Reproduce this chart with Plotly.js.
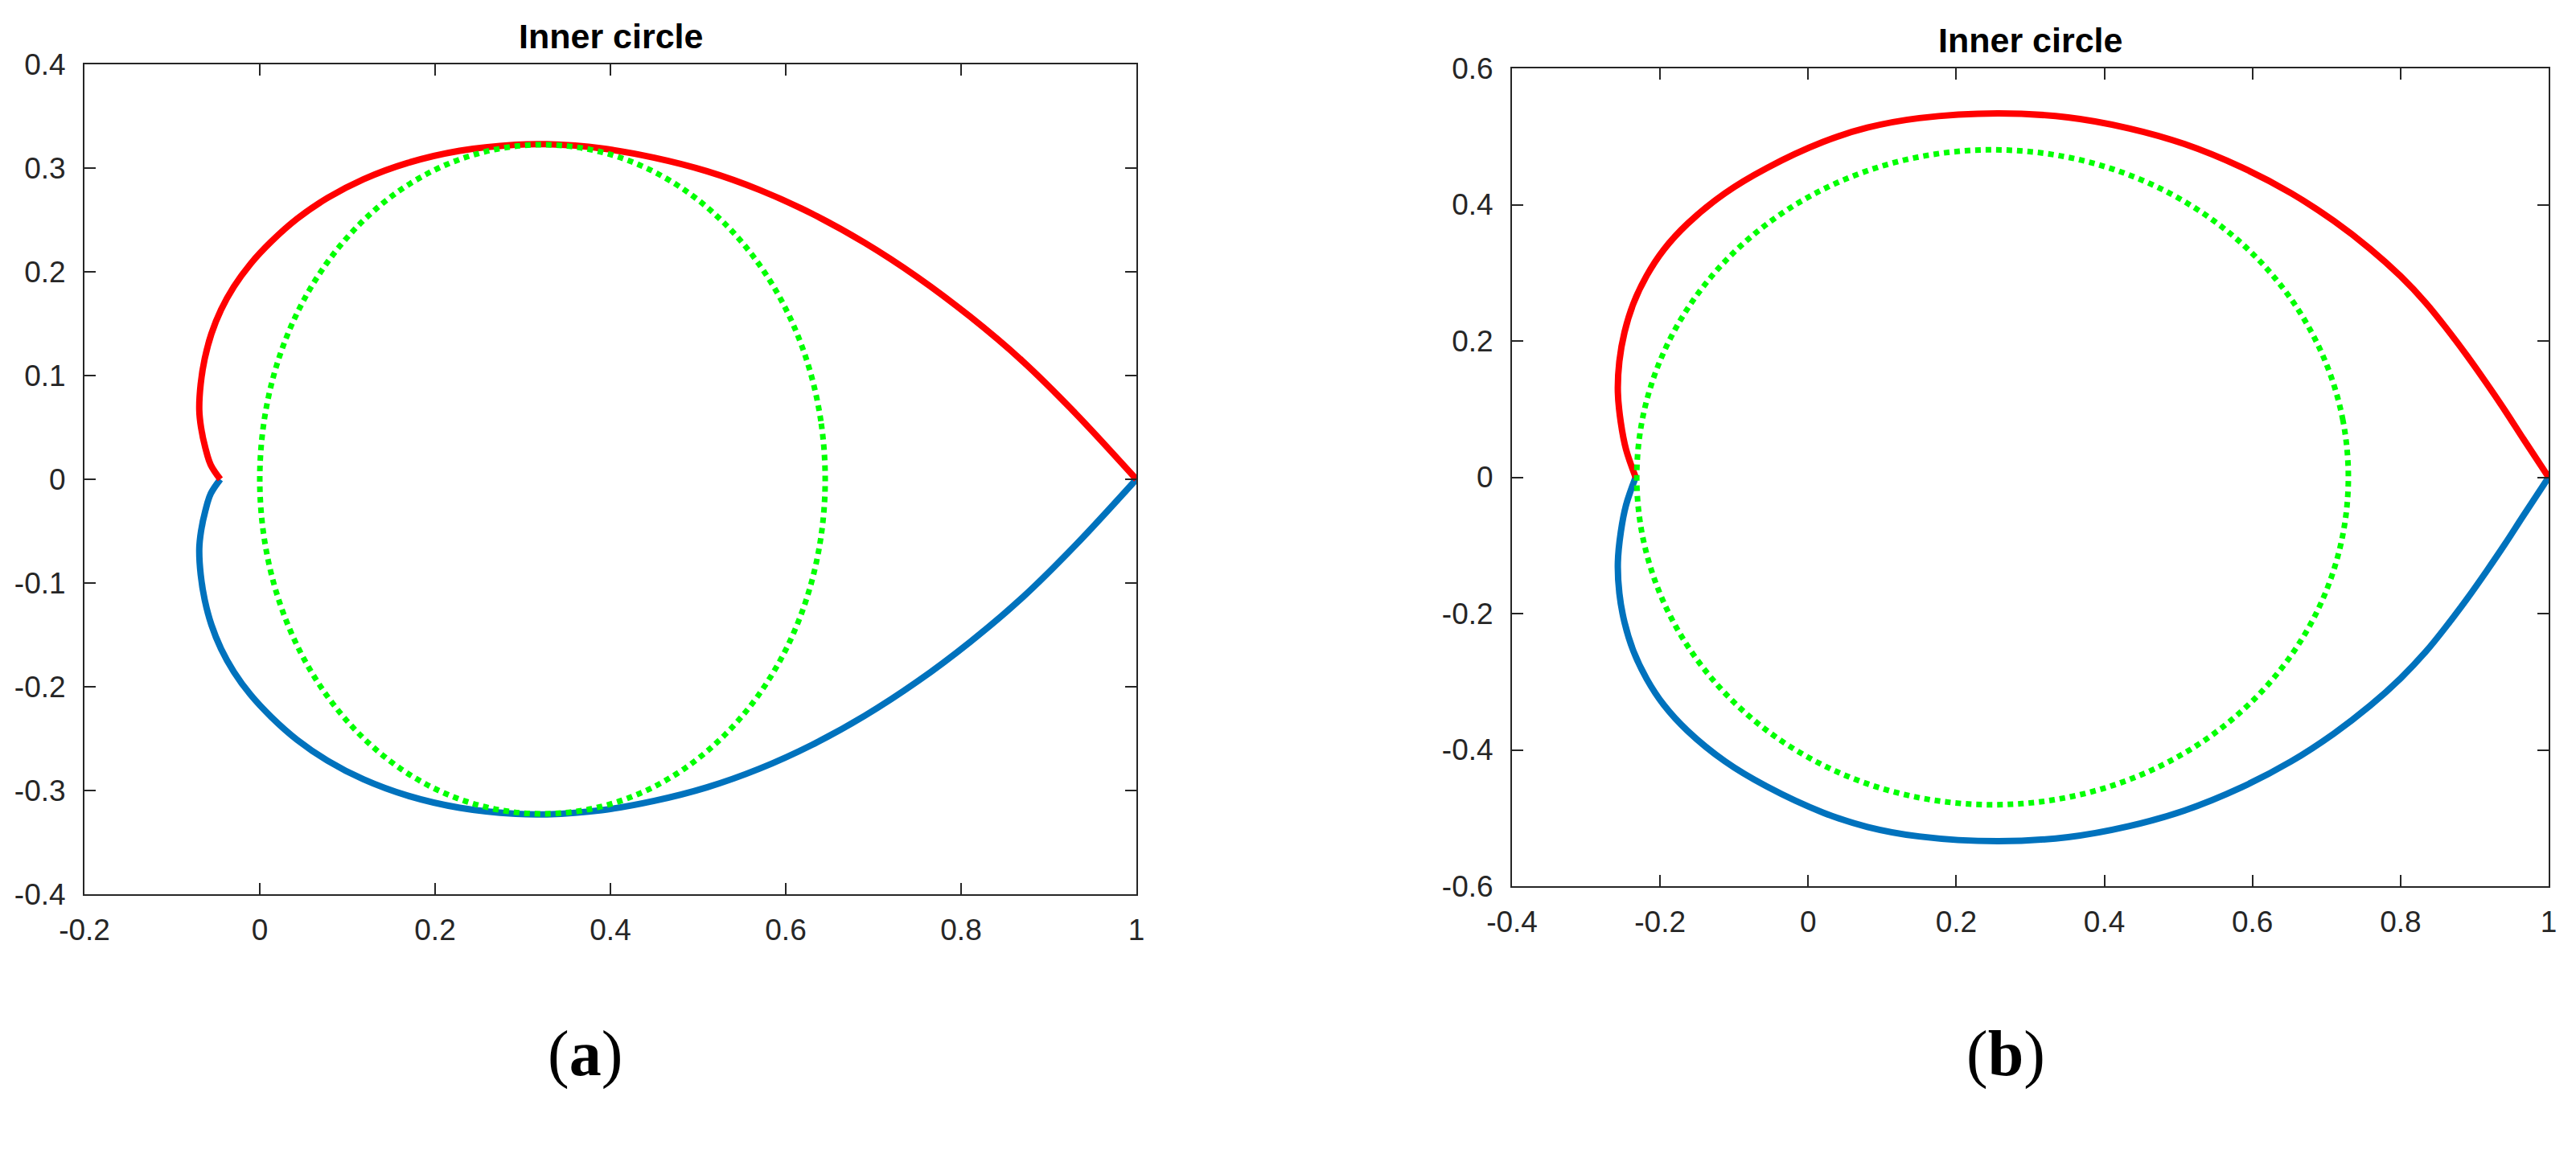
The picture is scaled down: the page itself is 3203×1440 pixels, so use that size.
<!DOCTYPE html>
<html><head><meta charset="utf-8">
<script src="https://cdn.plot.ly/plotly-3.0.1.min.js"></script>
<style>html,body{margin:0;padding:0;background:#fff;}</style>
</head><body><div id="chart" style="width:3203px;height:1440px;"></div>
<script>
// ---------- text ----------
const titleText = "Inner circle";
const panelLabels = ["(<b>a</b>)", "(<b>b</b>)"];

// ---------- panel (a) data ----------
const aRedX  = [-0.045,-0.056,-0.062,-0.067,-0.069,-0.0674,-0.0628,-0.0552,-0.0442,-0.0295,-0.0106,0.0131,0.0427,0.0772,0.1184,0.1687,0.2280,0.2919,0.3277,0.390,0.450,0.510,0.570,0.630,0.690,0.750,0.810,0.870,0.930,1.000];
const aRedY  = [0.000,0.014,0.030,0.050,0.067,0.0918,0.1163,0.1402,0.1633,0.1857,0.2076,0.2291,0.2512,0.2712,0.2893,0.3050,0.3167,0.3225,0.3230,0.319,0.310,0.297,0.279,0.256,0.228,0.195,0.157,0.114,0.064,0.000];
const aBlueX = [-0.045,-0.056,-0.062,-0.067,-0.069,-0.0674,-0.0628,-0.0552,-0.0442,-0.0295,-0.0106,0.0131,0.0427,0.0772,0.1184,0.1687,0.2280,0.2919,0.3277,0.390,0.450,0.510,0.570,0.630,0.690,0.750,0.810,0.870,0.930,1.000];
const aBlueY = [0.000,-0.014,-0.030,-0.050,-0.067,-0.0918,-0.1163,-0.1402,-0.1633,-0.1857,-0.2076,-0.2291,-0.2512,-0.2712,-0.2893,-0.3050,-0.3167,-0.3225,-0.3230,-0.319,-0.310,-0.297,-0.279,-0.256,-0.228,-0.195,-0.157,-0.114,-0.064,0.000];
const aGreenX = [0.645,0.6401,0.6256,0.6018,0.5695,0.5298,0.4838,0.4328,0.3785,0.3225,0.2665,0.2122,0.1612,0.1152,0.0755,0.0432,0.0194,0.0049,0.000,0.0049,0.0194,0.0432,0.0755,0.1152,0.1612,0.2122,0.2665,0.3225,0.3785,0.4328,0.4838,0.5298,0.5695,0.6018,0.6256,0.6401,0.645];
const aGreenY = [0.000,0.0560,0.1103,0.1613,0.2073,0.2470,0.2793,0.3031,0.3176,0.3225,0.3176,0.3031,0.2793,0.2470,0.2073,0.1613,0.1103,0.0560,0.000,-0.0560,-0.1103,-0.1613,-0.2073,-0.2470,-0.2793,-0.3031,-0.3176,-0.3225,-0.3176,-0.3031,-0.2793,-0.2470,-0.2073,-0.1613,-0.1103,-0.0560,0.000];

// ---------- panel (b) data ----------
const bRedX  = [-0.233,-0.246,-0.253,-0.257,-0.255,-0.248,-0.236,-0.218,-0.195,-0.163,-0.1123,-0.0563,0.020,0.080,0.150,0.256,0.351,0.433,0.508,0.585,0.652,0.710,0.759,0.800,0.834,0.863,0.890,0.916,0.941,0.966,1.000];
const bRedY  = [0.000,0.041,0.080,0.125,0.170,0.213,0.255,0.296,0.334,0.372,0.4169,0.4535,0.492,0.513,0.527,0.534,0.528,0.512,0.489,0.455,0.417,0.376,0.335,0.295,0.256,0.217,0.178,0.138,0.098,0.056,0.000];
const bBlueX = [-0.233,-0.246,-0.253,-0.257,-0.255,-0.248,-0.236,-0.218,-0.195,-0.163,-0.1123,-0.0563,0.020,0.080,0.150,0.256,0.351,0.433,0.508,0.585,0.652,0.710,0.759,0.800,0.834,0.863,0.890,0.916,0.941,0.966,1.000];
const bBlueY = [0.000,-0.041,-0.080,-0.125,-0.170,-0.213,-0.255,-0.296,-0.334,-0.372,-0.4169,-0.4535,-0.492,-0.513,-0.527,-0.534,-0.528,-0.512,-0.489,-0.455,-0.417,-0.376,-0.335,-0.295,-0.256,-0.217,-0.178,-0.138,-0.098,-0.056,0.000];
const bGreenX = [0.7295,0.7222,0.7005,0.6651,0.6171,0.5579,0.4893,0.4133,0.3324,0.2490,0.1656,0.0847,0.0087,-0.0599,-0.1191,-0.1671,-0.2025,-0.2242,-0.2315,-0.2242,-0.2025,-0.1671,-0.1191,-0.0599,0.0087,0.0847,0.1656,0.2490,0.3324,0.4133,0.4893,0.5579,0.6171,0.6651,0.7005,0.7222,0.7295];
const bGreenY = [0.000,0.0834,0.1643,0.2403,0.3089,0.3681,0.4161,0.4515,0.4732,0.4805,0.4732,0.4515,0.4161,0.3681,0.3089,0.2403,0.1643,0.0834,0.000,-0.0834,-0.1643,-0.2403,-0.3089,-0.3681,-0.4161,-0.4515,-0.4732,-0.4805,-0.4732,-0.4515,-0.4161,-0.3681,-0.3089,-0.2403,-0.1643,-0.0834,0.000];

// ---------- ticks ----------
const aXTickVals = [-0.2,0,0.2,0.4,0.6,0.8,1];
const aXTickText = ["-0.2","0","0.2","0.4","0.6","0.8","1"];
const aYTickVals = [-0.4,-0.3,-0.2,-0.1,0,0.1,0.2,0.3,0.4];
const aYTickText = ["-0.4","-0.3","-0.2","-0.1","0","0.1","0.2","0.3","0.4"];
const bXTickVals = [-0.4,-0.2,0,0.2,0.4,0.6,0.8,1];
const bXTickText = ["-0.4","-0.2","0","0.2","0.4","0.6","0.8","1"];
const bYTickVals = [-0.6,-0.4,-0.2,0,0.2,0.4,0.6];
const bYTickText = ["-0.6","-0.4","-0.2","0","0.2","0.4","0.6"];

// ---------- styling / layout ----------
const W = 3203, H = 1440;
const axCol = '#262626';
const redCol = '#FF0000', blueCol = '#0072BD', greenCol = '#00FF00';
const tickFont = {family: 'Liberation Sans, Arial, sans-serif', size: 37, color: axCol};

function px2x(p){ return p / W; }
function px2y(p){ return 1 - p / H; }

function axis(range, vals, text, domain, anchor, isY){
  return {
    range: range, tickmode: 'array', tickvals: vals, ticktext: text,
    domain: domain, anchor: anchor,
    showline: true, linecolor: axCol, linewidth: 2, mirror: 'ticks',
    ticks: 'inside', ticklen: 14, tickwidth: 2, tickcolor: axCol,
    showgrid: false, zeroline: false, tickfont: tickFont,
    ticklabelstandoff: isY ? 14 : 11, fixedrange: true
  };
}

function curve(x, y, col, xa, ya){
  return {x: x, y: y, xaxis: xa, yaxis: ya, mode: 'lines', type: 'scatter',
    line: {color: col, width: 8, shape: 'spline', smoothing: 1}, hoverinfo: 'skip'};
}
function dotted(x, y, col, xa, ya){
  return {x: x, y: y, xaxis: xa, yaxis: ya, mode: 'lines', type: 'scatter',
    line: {color: col, width: 7, dash: '7px,6px', shape: 'spline', smoothing: 1}, hoverinfo: 'skip'};
}

const data = [
  curve(aBlueX, aBlueY, blueCol, 'x', 'y'),
  curve(aRedX, aRedY, redCol, 'x', 'y'),
  dotted(aGreenX, aGreenY, greenCol, 'x', 'y'),
  curve(bBlueX, bBlueY, blueCol, 'x2', 'y2'),
  curve(bRedX, bRedY, redCol, 'x2', 'y2'),
  dotted(bGreenX, bGreenY, greenCol, 'x2', 'y2')
];

const aDomX = [px2x(105), px2x(1413)], aDomY = [px2y(1112), px2y(80)];
const bDomX = [px2x(1880), px2x(3169)], bDomY = [px2y(1102), px2y(85)];

const layout = {
  width: W, height: H, autosize: false,
  margin: {l: 0, r: 0, t: 0, b: 0, pad: 0},
  paper_bgcolor: '#ffffff', plot_bgcolor: '#ffffff',
  showlegend: false,
  xaxis: axis([-0.2, 1], aXTickVals, aXTickText, aDomX, 'y', false),
  yaxis: axis([-0.4, 0.4], aYTickVals, aYTickText, aDomY, 'x', true),
  xaxis2: axis([-0.4, 1], bXTickVals, bXTickText, bDomX, 'y2', false),
  yaxis2: axis([-0.6, 0.6], bYTickVals, bYTickText, bDomY, 'x2', true),
  annotations: [
    {text: '<b>' + titleText + '</b>', xref: 'paper', yref: 'paper', x: (aDomX[0]+aDomX[1])/2, y: px2y(45),
     xanchor: 'center', yanchor: 'middle', showarrow: false,
     font: {family: 'Liberation Sans, Arial, sans-serif', size: 43, color: '#000000'}},
    {text: '<b>' + titleText + '</b>', xref: 'paper', yref: 'paper', x: (bDomX[0]+bDomX[1])/2, y: px2y(50),
     xanchor: 'center', yanchor: 'middle', showarrow: false,
     font: {family: 'Liberation Sans, Arial, sans-serif', size: 43, color: '#000000'}},
    {text: panelLabels[0], xref: 'paper', yref: 'paper', x: px2x(727), y: px2y(1310),
     xanchor: 'center', yanchor: 'middle', showarrow: false,
     font: {family: 'Liberation Serif, Times New Roman, serif', size: 80, color: '#000000'}},
    {text: panelLabels[1], xref: 'paper', yref: 'paper', x: px2x(2494), y: px2y(1310),
     xanchor: 'center', yanchor: 'middle', showarrow: false,
     font: {family: 'Liberation Serif, Times New Roman, serif', size: 80, color: '#000000'}}
  ]
};

Plotly.newPlot('chart', data, layout, {staticPlot: true, displayModeBar: false});
</script>
</body></html>
